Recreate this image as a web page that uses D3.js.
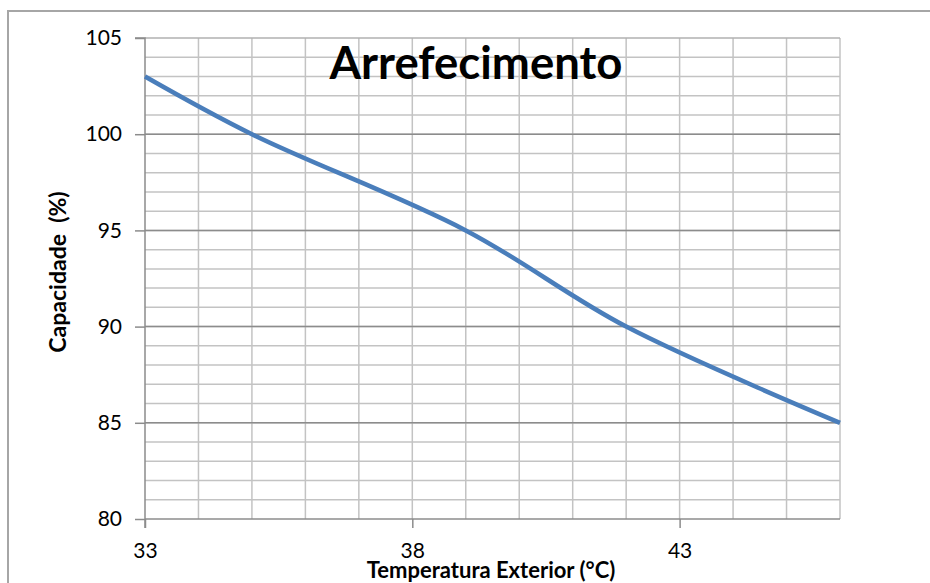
<!DOCTYPE html>
<html>
<head>
<meta charset="utf-8">
<script src="https://cdn.jsdelivr.net/npm/d3@7"></script>
<style>
  html, body { margin: 0; padding: 0; background: #fff; }
  svg { display: block; }
</style>
</head>
<body>
<svg id="chart" width="930" height="583"></svg>
<script>
// Capacity curve vs outdoor temperature (cooling mode)
const temperatures = [33, 35, 39, 42, 46];
const capacity = [103, 100, 95, 90, 85];
const xTicks = [33, 38, 43];
const yTicks = [80, 85, 90, 95, 100, 105];
const chartTitle = "Arrefecimento";
const xTitle = "Temperatura Exterior (°C)";
const yTitle = "Capacidade  (%)";

const svg = d3.select("#chart");
const font = "Lato, 'Open Sans', sans-serif";

const plotLeft = 145, plotRight = 840, plotTop = 38, plotBottom = 519;
const x = d3.scaleLinear().domain([33, 46]).range([plotLeft, plotRight]);
const y = d3.scaleLinear().domain([80, 105]).range([plotBottom, plotTop]);

// outer frame
svg.append("path")
  .attr("d", `M8,583 V11 H930`)
  .attr("fill", "none").attr("stroke", "#a6a6a6").attr("stroke-width", 2);

// minor horizontal gridlines (every unit)
const g = svg.append("g");
g.selectAll("line.hminor").data(d3.range(81, 105)).join("line")
  .attr("x1", plotLeft).attr("x2", plotRight)
  .attr("y1", d => y(d)).attr("y2", d => y(d))
  .attr("stroke", "#c3c3c3").attr("stroke-width", 1.5);

// vertical gridlines (every unit)
g.selectAll("line.v").data(d3.range(34, 47)).join("line")
  .attr("y1", plotTop).attr("y2", plotBottom)
  .attr("x1", d => x(d)).attr("x2", d => x(d))
  .attr("stroke", "#c3c3c3").attr("stroke-width", 1.5);

// major horizontal gridlines
g.selectAll("line.hmajor").data(yTicks.filter(d => d > 80)).join("line")
  .attr("x1", plotLeft).attr("x2", plotRight)
  .attr("y1", d => y(d)).attr("y2", d => y(d))
  .attr("stroke", d => d === 105 ? "#b0b0b0" : "#8c8c8c").attr("stroke-width", 1.5);

// y axis
const yAxis = svg.append("g")
  .attr("transform", `translate(${plotLeft},0)`)
  .call(d3.axisLeft(y).tickValues(yTicks).tickSize(10).tickPadding(13));
// x axis
const xAxis = svg.append("g")
  .attr("transform", `translate(0,${plotBottom})`)
  .call(d3.axisBottom(x).tickValues(xTicks).tickSize(9).tickPadding(15));

[yAxis, xAxis].forEach(a => {
  a.select(".domain").attr("stroke", "#8c8c8c").attr("stroke-width", 1.5);
  a.selectAll(".tick line").attr("stroke", "#8c8c8c").attr("stroke-width", 1.5);
  a.selectAll("text").attr("fill", "#000").style("font-family", font).style("font-size", "21px");
});
yAxis.select(".domain").attr("d", `M-10,${plotTop}H0V${plotBottom + 9}`);
xAxis.select(".domain").attr("d", `M${plotLeft},0H${plotRight}`);

// data line
const line = d3.line()
  .x((d, i) => x(temperatures[i]))
  .y(d => y(d))
  .curve(d3.curveCatmullRom.alpha(0.5));
svg.append("path")
  .datum(capacity)
  .attr("d", line)
  .attr("fill", "none")
  .attr("stroke", "#4a7ebb")
  .attr("stroke-width", 4.5)
  .attr("stroke-linecap", "butt");

// title
svg.append("text")
  .attr("x", 476).attr("y", 79)
  .attr("text-anchor", "middle")
  .style("font-family", font).style("font-weight", "bold").style("font-size", "45.5px")
  .attr("fill", "#000")
  .text(chartTitle);

// axis titles
svg.append("text")
  .attr("x", 491).attr("y", 578)
  .attr("text-anchor", "middle")
  .style("font-family", font).style("font-weight", "bold").style("font-size", "22px")
  .attr("fill", "#000")
  .text(xTitle);

svg.append("text")
  .attr("transform", "translate(66,272) rotate(-90)")
  .attr("text-anchor", "middle")
  .style("font-family", font).style("font-weight", "bold").style("font-size", "23px")
  .style("white-space", "pre")
  .attr("fill", "#000")
  .text(yTitle);
</script>
</body>
</html>
